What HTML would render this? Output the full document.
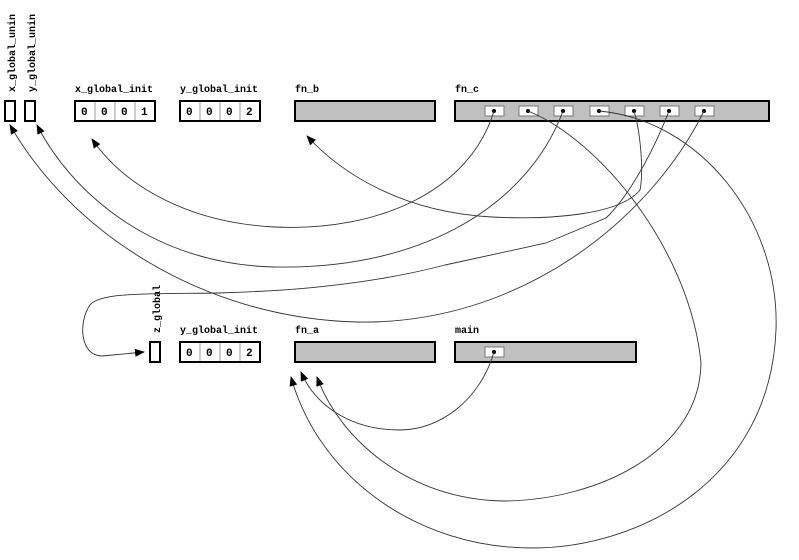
<!DOCTYPE html>
<html><head><style>
html,body{margin:0;padding:0;background:#fff;}
svg{display:block;}
text{font-family:"Liberation Mono",monospace;font-weight:bold;font-size:10px;fill:#000;}
.d{font-size:11px;}
</style></head><body>
<svg width="799" height="560" viewBox="0 0 799 560" xmlns="http://www.w3.org/2000/svg">
<defs>
<marker id="a" markerWidth="10" markerHeight="8" refX="9" refY="4" orient="auto" markerUnits="userSpaceOnUse">
<path d="M0,0 L10,4 L0,8 z" fill="#000"/>
</marker>
</defs>
<!-- top row -->
<text transform="translate(15,92) rotate(-90)" font-size="9">x_global_unin</text>
<text transform="translate(35,92) rotate(-90)" font-size="9">y_global_unin</text>
<rect x="5" y="101" width="10" height="20" fill="#fff" stroke="#000" stroke-width="2"/>
<rect x="25" y="101" width="10" height="20" fill="#fff" stroke="#000" stroke-width="2"/>
<text x="75" y="92">x_global_init</text>
<rect x="75" y="101" width="80" height="20" fill="#fff" stroke="#000" stroke-width="2"/>
<g stroke="#999" stroke-width="1"><line x1="95" y1="102" x2="95" y2="120"/><line x1="115" y1="102" x2="115" y2="120"/><line x1="135" y1="102" x2="135" y2="120"/></g>
<text class="d" x="81" y="115">0</text><text class="d" x="101" y="115">0</text><text class="d" x="121" y="115">0</text><text class="d" x="141" y="115">1</text>
<text x="180" y="92">y_global_init</text>
<rect x="180" y="101" width="80" height="20" fill="#fff" stroke="#000" stroke-width="2"/>
<g stroke="#999" stroke-width="1"><line x1="200" y1="102" x2="200" y2="120"/><line x1="220" y1="102" x2="220" y2="120"/><line x1="240" y1="102" x2="240" y2="120"/></g>
<text class="d" x="186" y="115">0</text><text class="d" x="206" y="115">0</text><text class="d" x="226" y="115">0</text><text class="d" x="246" y="115">2</text>
<text x="295" y="92">fn_b</text>
<rect x="295" y="101" width="140" height="20" fill="#c0c0c0" stroke="#000" stroke-width="2"/>
<text x="455" y="92">fn_c</text>
<rect x="455" y="101" width="314" height="20" fill="#c0c0c0" stroke="#000" stroke-width="2"/>
<g fill="#fff" stroke="#777" stroke-width="1">
<rect x="485" y="106" width="19" height="10"/><rect x="519" y="106" width="19" height="10"/><rect x="554" y="106" width="19" height="10"/><rect x="590" y="106" width="19" height="10"/><rect x="625" y="106" width="19" height="10"/><rect x="660" y="106" width="19" height="10"/><rect x="695" y="106" width="19" height="10"/>
</g>
<g fill="#000">
<circle cx="494" cy="111" r="2"/><circle cx="528" cy="111" r="2"/><circle cx="563" cy="111" r="2"/><circle cx="599" cy="111" r="2"/><circle cx="634" cy="111" r="2"/><circle cx="669" cy="111" r="2"/><circle cx="704" cy="111" r="2"/>
</g>
<!-- bottom row -->
<text transform="translate(160,333) rotate(-90)" font-size="9">z_global</text>
<rect x="150" y="342" width="10" height="20" fill="#fff" stroke="#000" stroke-width="2"/>
<text x="180" y="333">y_global_init</text>
<rect x="180" y="342" width="80" height="20" fill="#fff" stroke="#000" stroke-width="2"/>
<g stroke="#999" stroke-width="1"><line x1="200" y1="343" x2="200" y2="361"/><line x1="220" y1="343" x2="220" y2="361"/><line x1="240" y1="343" x2="240" y2="361"/></g>
<text class="d" x="186" y="356">0</text><text class="d" x="206" y="356">0</text><text class="d" x="226" y="356">0</text><text class="d" x="246" y="356">2</text>
<text x="295" y="333">fn_a</text>
<rect x="295" y="342" width="140" height="20" fill="#c0c0c0" stroke="#000" stroke-width="2"/>
<text x="455" y="333">main</text>
<rect x="455" y="342" width="181" height="20" fill="#c0c0c0" stroke="#000" stroke-width="2"/>
<rect x="485" y="347" width="19" height="10" fill="#fff" stroke="#777"/>
<circle cx="494" cy="352" r="2" fill="#000"/>
<!-- connectors -->
<g fill="none" stroke="#333" stroke-width="0.9" marker-end="url(#a)">
<path d="M494,111 C470,190 380,232 274,227 C180,222 120,180 92,139"/>
<path d="M563,111 C530,200 430,270 274,267 C150,264 70,190 37,125"/>
<path d="M704,111 C650,220 520,325 357,322 C200,318 70,230 10,125"/>
<path d="M669,111 C650,160 625,200 606,218 L546,243 L445,265 C350,290 250,292 217,293 C150,294 100,292 90,305 C78,322 80,356 102,356 L144,352"/>
<path d="M634,111 C640,130 644,170 640,190 C620,215 550,220 492,217 C400,212 340,172 307,136"/>
<path d="M528,111 C600,140 690,250 701,363 C700,450 600,500 504,501 C410,500 340,440 317,377"/>
<path d="M599,111 C700,120 780,220 776,330 C770,480 640,548 532,548 C420,548 320,480 291,377"/>
<path d="M494,352 C480,400 440,430 400,430 C350,430 315,405 301,372"/>
</g>
</svg>
</body></html>
